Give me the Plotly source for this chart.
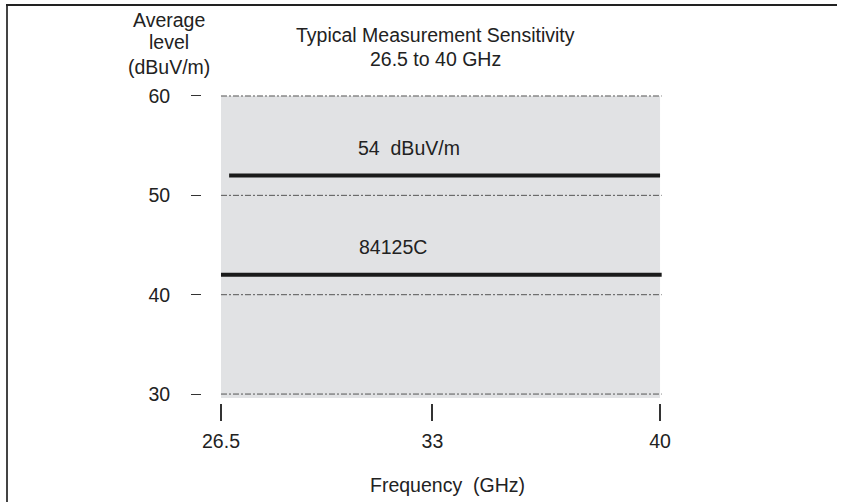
import plotly.graph_objects as go

# ---- data ----
freq_ticks = [26.5, 33, 40]
freq_tick_labels = ["26.5", "33", "40"]
level_ticks = [30, 40, 50, 60]
level_tick_labels = ["30", "40", "50", "60"]

series_names = ["54  dBuV/m", "84125C"]
series_x = [[26.75, 40.0], [26.5, 40.05]]
series_y = [[52, 52], [42, 42]]
label_pos_x = [32.28, 31.79]
label_pos_y = [54.8, 44.8]

title_lines = ["Typical Measurement Sensitivity", "26.5 to 40 GHz"]
ylabel_lines = ["Average", "level", "(dBuV/m)"]
xlabel = "Frequency  (GHz)"

FONT = "Liberation Sans, Arial, sans-serif"
TXT = "#222222"
FS = 19.5

# plot-area pixel geometry (for placing paper-referenced text)
L, T, W, H = 202, 95, 460, 308


def px(xp):
    return (xp - L) / W


def py(yp):
    return 1 - (yp - T) / H


fig = go.Figure()

# shaded measurement region
fig.add_shape(type="rect", xref="x", yref="y", x0=26.5, x1=40.0, y0=29.6, y1=60,
              fillcolor="#e1e2e4", line=dict(width=0), layer="below")

# dash-dot grid lines within the shaded region
for lv in level_ticks:
    fig.add_trace(go.Scatter(x=[26.5, 40.05], y=[lv, lv], mode="lines",
                             line=dict(color="#555555", width=1, dash="6px,2px,2px,2px"),
                             hoverinfo="skip", showlegend=False))

# sensitivity lines
for name, xs, ys in zip(series_names, series_x, series_y):
    fig.add_trace(go.Scatter(x=xs, y=ys, mode="lines", name=name,
                             line=dict(color="#1a1a1a", width=4), showlegend=False))

for name, lx, ly in zip(series_names, label_pos_x, label_pos_y):
    fig.add_annotation(x=lx, y=ly, xref="x", yref="y", text=name, showarrow=False,
                       xanchor="center", yanchor="middle",
                       font=dict(family=FONT, size=FS, color=TXT))

# titles and axis labels
for txt, yc in zip(title_lines, [35, 59]):
    fig.add_annotation(x=px(435), y=py(yc), xref="paper", yref="paper", text=txt,
                       showarrow=False, xanchor="center", yanchor="middle",
                       font=dict(family=FONT, size=FS, color=TXT))
for txt, yc in zip(ylabel_lines, [20, 42, 67]):
    fig.add_annotation(x=px(169), y=py(yc), xref="paper", yref="paper", text=txt,
                       showarrow=False, xanchor="center", yanchor="middle",
                       font=dict(family=FONT, size=FS, color=TXT))
fig.add_annotation(x=px(447), y=py(485), xref="paper", yref="paper", text=xlabel,
                   showarrow=False, xanchor="center", yanchor="middle",
                   font=dict(family=FONT, size=FS, color=TXT))

# frame lines
fig.add_shape(type="line", xref="paper", yref="paper",
              x0=px(7), x1=px(7), y0=py(505), y1=py(4),
              line=dict(color="#444444", width=2))
fig.add_shape(type="line", xref="paper", yref="paper",
              x0=px(6), x1=px(837), y0=py(5), y1=py(5),
              line=dict(color="#222222", width=2))

fig.update_layout(
    width=846, height=502,
    margin=dict(l=L, r=846 - L - W, t=T, b=502 - T - H),
    paper_bgcolor="white", plot_bgcolor="white",
    font=dict(family=FONT, size=FS, color=TXT),
    xaxis=dict(range=[25.916, 40.06], tickvals=freq_ticks, ticktext=freq_tick_labels,
               ticks="outside", ticklen=17, tickwidth=1.5, tickcolor="#333333",
               showgrid=False, zeroline=False, showline=False,
               ticklabelstandoff=4, tickfont=dict(family=FONT, size=FS, color=TXT)),
    yaxis=dict(range=[29.1, 60.1], tickvals=level_ticks, ticktext=level_tick_labels,
               ticks="outside", ticklen=10, tickwidth=1, tickcolor="#333333",
               showgrid=False, zeroline=False, showline=False,
               ticklabelstandoff=17, tickfont=dict(family=FONT, size=FS, color=TXT)),
)

fig.write_html("out.html", config={"displayModeBar": False},
               post_script="document.body.style.margin='0px';")
